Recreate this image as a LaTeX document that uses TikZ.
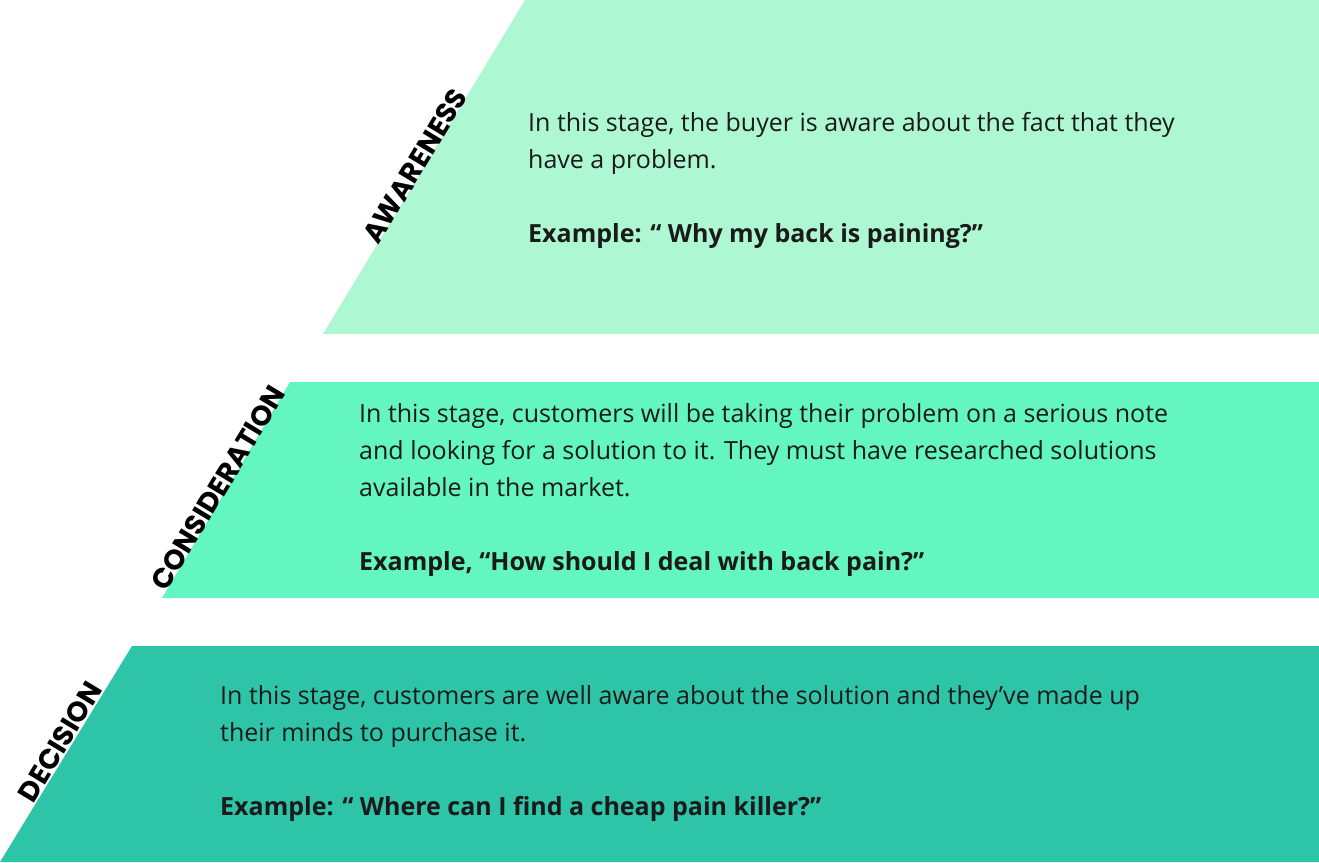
\documentclass[tikz,border=0pt]{standalone}
\usepackage{fontspec}
\setmainfont{Open Sans}
\newfontfamily\labfont{Poppins}
\definecolor{awc}{HTML}{ADF8D2}
\definecolor{coc}{HTML}{63F6C1}
\definecolor{dec}{HTML}{2EC4A8}
\definecolor{txt}{HTML}{1A1A1A}
\begin{document}
\begin{tikzpicture}[x=1pt,y=-1pt,
  body/.style={anchor=north west,align=left,text=txt,inner sep=0pt,font=\fontsize{25}{37}\selectfont},
  lab/.style={rotate=58.8,text=black,font=\labfont\bfseries\fontsize{28}{28}\selectfont}]
\useasboundingbox (0,0) rectangle (1319,862);
\fill[awc] (525,0) -- (1319,0) -- (1319,334) -- (323,334) -- cycle;
\fill[coc] (290,382) -- (1319,382) -- (1319,598) -- (162,598) -- cycle;
\fill[dec] (132,646) -- (1319,646) -- (1319,862) -- (0,862) -- cycle;
\node[lab] (l1) at (415,166) {AWARENESS};
\node[lab] (l2) at (218,488) {CONSIDERATION};
\node[lab] (l3) at (60,742) {DECISION};
\node[body] (t1) at (528,112) {In this stage, the buyer is aware about the fact that they\\have a problem.\\[37pt]\textbf{Example: “ Why my back is paining?”}};
\node[body] (t2) at (359,403) {In this stage, customers will be taking their problem on a serious note\\and looking for a solution to it. They must have researched solutions\\available in the market.\\[37pt]\textbf{Example, “How should I deal with back pain?”}};
\node[body] (t3) at (220,685) {In this stage, customers are well aware about the solution and they’ve made up\\their minds to purchase it.\\[37pt]\textbf{Example: “ Where can I find a cheap pain killer?”}};
\end{tikzpicture}
\end{document}
